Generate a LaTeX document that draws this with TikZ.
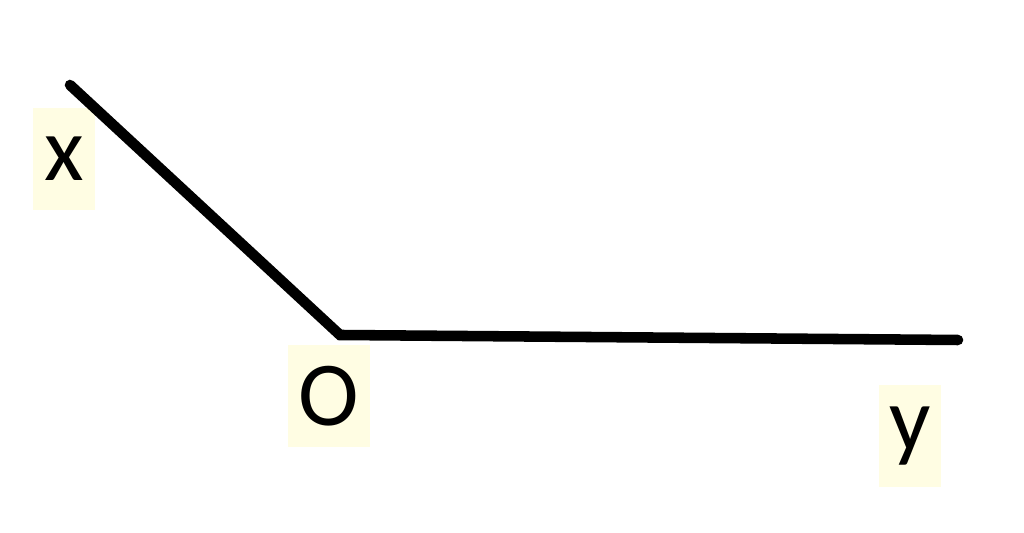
\documentclass[tikz,border=0pt]{standalone}
\usepackage{fontspec}
\setmainfont{Carlito}
\usepackage{tikz}
\definecolor{labelbg}{HTML}{FFFDE3}

\begin{document}
\begin{tikzpicture}[every node/.style={fill=labelbg, inner sep=0pt, outer sep=0pt, minimum width=1.24cm, minimum height=2.04cm, font=\fontsize{52}{52}\selectfont}, ray/.style={line width=6pt, line cap=round, line join=miter}]
\useasboundingbox (0,0) rectangle (20.48,10.66);
\coordinate (X) at (1.40,8.96);
\coordinate (O) at (6.80,3.96);
\coordinate (Y) at (19.16,3.86);

\node (lx) at (1.28,7.48) {x};
\node[minimum width=1.64cm] (lo) at (6.58,2.74) {O};
\node (ly) at (18.20,1.94) {y};

\draw[ray] (X) -- (O) -- (Y);
\end{tikzpicture}
\end{document}
